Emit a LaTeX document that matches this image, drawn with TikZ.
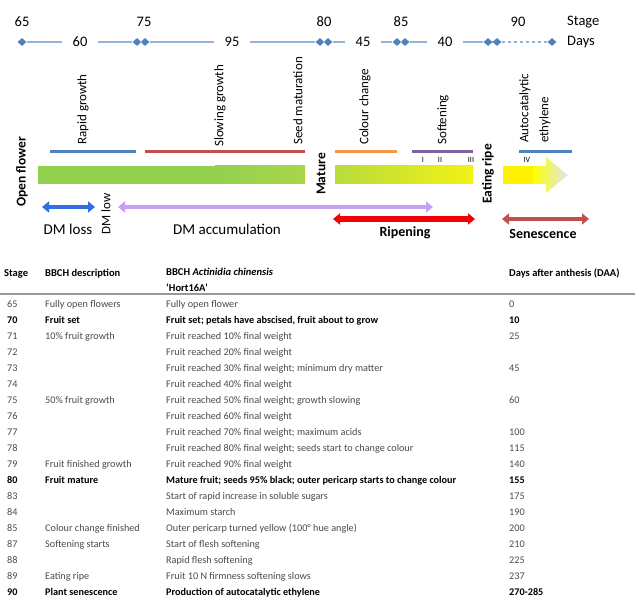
\documentclass[tikz,border=0pt]{standalone}
\usepackage{fontspec}
\setmainfont{Carlito}
\usetikzlibrary{arrows.meta, shapes.geometric, calc}

\definecolor{tlblue}{HTML}{95B3D7}
\definecolor{diablue}{HTML}{4F81BD}
\definecolor{slowred}{HTML}{C0504D}
\definecolor{colorange}{HTML}{F79646}
\definecolor{softpurple}{HTML}{8064A2}
\definecolor{bargreen}{HTML}{92D050}
\definecolor{barlime}{HTML}{AAD648}
\definecolor{ripelime}{HTML}{B8DB3E}
\definecolor{ripeyellow}{HTML}{F2F214}
\definecolor{tipgrey}{HTML}{DCE6F0}
\definecolor{lossblue}{HTML}{2E6FE6}
\definecolor{accviolet}{HTML}{C6A0F4}
\definecolor{ripered}{HTML}{F00000}
\definecolor{tabgrey}{HTML}{4A4A4A}
\definecolor{rulegrey}{HTML}{999999}

\tikzset{
  dia/.style={diamond, fill=diablue, inner sep=0pt, minimum width=9pt, minimum height=8pt},
  stagenum/.style={font=\fontsize{14.5}{16}\selectfont, inner sep=0pt},
  daynum/.style={font=\fontsize{14.5}{16}\selectfont, inner xsep=10pt, inner ysep=0pt},
  tline/.style={tlblue, line width=1.3pt},
  phase/.style={font=\fontsize{13}{20}\selectfont, rotate=90, anchor=west, inner sep=0pt, align=left},
  keylab/.style={font=\fontsize{13.5}{16}\selectfont\bfseries, rotate=90, inner sep=0pt},
  bar/.style={line width=3pt},
  roman/.style={font=\fontsize{8}{9}\selectfont, inner sep=0pt},
  dblarrow/.style={line width=4pt, {Triangle[width=11pt,length=7pt]}-{Triangle[width=11pt,length=7pt]}},
  armlab/.style={font=\fontsize{15}{17}\selectfont, inner sep=0pt},
  armbold/.style={font=\fontsize{14}{17}\selectfont\bfseries, inner sep=0pt},
  thead/.style={font=\fontsize{10.5}{16}\selectfont\bfseries, anchor=base west, inner sep=0pt, align=left},
  tbody/.style={font=\fontsize{10.2}{12}\selectfont, text=tabgrey, anchor=base west, inner sep=0pt},
  tbold/.style={font=\fontsize{10.2}{12}\selectfont\bfseries, anchor=base west, inner sep=0pt}
}

\begin{document}
\begin{tikzpicture}[x=1pt, y=-1pt]
    \useasboundingbox (0,0) rectangle (635,599);

    % stage / days timeline
    \node[stagenum] (s65) at (22,22) {65};
    \node[stagenum] (s75) at (144,22) {75};
    \node[stagenum] (s80) at (324,22) {80};
    \node[stagenum] (s85) at (401,22) {85};
    \node[stagenum] (s90) at (518,22) {90};
    \node[stagenum, anchor=west] (stage) at (567,22) {Stage};
    \node[stagenum, anchor=west] (days) at (567,42) {Days};

    \node[daynum] (n60) at (80,42) {60};
    \node[daynum] (n95) at (232,42) {95};
    \node[daynum] (n45) at (363,42) {45};
    \node[daynum] (n40) at (445,42) {40};

    \node[dia] (d1) at (22,42) {};
    \node[dia] (d2) at (137,42) {};
    \node[dia] (d3) at (145,42) {};
    \node[dia] (d4) at (320,42) {};
    \node[dia] (d5) at (328,42) {};
    \node[dia] (d6) at (397,42) {};
    \node[dia] (d7) at (405,42) {};
    \node[dia] (d8) at (488,42) {};
    \node[dia] (d9) at (497,42) {};
    \node[dia] (d10) at (552,42) {};

    \draw[tline] (d1) -- (n60) (n60) -- (d2) -- (d3) -- (n95) (n95) -- (d4) -- (d5) -- (n45)
        (n45) -- (d6) -- (d7) -- (n40) (n40) -- (d8) -- (d9);
    \draw[tline, dashed] (d9) -- (d10);

    % phase labels and bars
    \node[phase] (rapid) at (83,145) {Rapid growth};
    \node[phase] (slowing) at (220,147) {Slowing growth};
    \node[phase] (seed) at (298,145) {Seed maturation};
    \node[phase] (colour) at (365,145) {Colour change};
    \node[phase] (soft) at (443,145) {Softening};
    \node[phase] (autocat) at (535,143) {Autocatalytic\\ethylene};

    \draw[bar, diablue] (50,152) -- (136,152);
    \draw[bar, slowred] (145,152) -- (305,152);
    \draw[bar, colorange] (335,152) -- (397,152);
    \draw[bar, softpurple] (412,152) -- (473,152);
    \draw[bar, diablue] (519,152) -- (572,152);

    \node[roman] (r1) at (423,160) {I};
    \node[roman] (r2) at (440,160) {II};
    \node[roman] (r3) at (471,160) {III};
    \node[roman] (r4) at (527,160) {IV};

    % fruit development bars
    \fill[bargreen] (38,166) rectangle (216,184);
    \shade[left color=bargreen, right color=barlime] (215,166) rectangle (305,184);
    \shade[left color=ripelime, right color=ripeyellow] (335,166) rectangle (473,184);
    \fill[yellow] (503,166) rectangle (534,184);
    \shade[left color=yellow, middle color=yellow!45!tipgrey, right color=tipgrey]
        (533,166) -- (546,166) -- (546,157) -- (568,175) -- (546,193) -- (546,184) -- (533,184) -- cycle;

    \node[keylab] (open) at (22,172) {Open flower};
    \node[keylab] (mature) at (321,174) {Mature};
    \node[keylab] (eating) at (488,174) {Eating ripe};
    \node[armlab, font=\fontsize{13}{16}\selectfont, rotate=90] (dmlow) at (106,214) {DM low};

    % dry matter and ripening arrows
    \coordinate (lossL) at (42,207);
    \coordinate (lossR) at (95,207);
    \coordinate (accL) at (118,207);
    \coordinate (accR) at (433,207);
    \coordinate (ripeL) at (333,219);
    \coordinate (ripeR) at (475,219);
    \coordinate (senL) at (502,219);
    \coordinate (senR) at (589,219);
    \draw[dblarrow, lossblue] (lossL) -- (lossR);
    \draw[dblarrow, accviolet] (accL) -- (accR);
    \draw[dblarrow, ripered, line width=5pt] (ripeL) -- (ripeR);
    \draw[dblarrow, slowred] (senL) -- (senR);
    \node[armlab] (loss) at (68,229) {DM loss};
    \node[armlab] (accum) at (227,229) {DM accumulation};
    \node[armbold] (ripening) at (405,233) {Ripening};
    \node[armbold] (senesc) at (543,234) {Senescence};

    % table
    \node[thead] (hstage) at (4,276) {Stage};
    \node[thead] (hdesc) at (45,276) {BBCH description};
    \node[thead, anchor=north west] (hact) at (166,268) {BBCH \textit{Actinidia chinensis}\\`Hort16A'};
    \node[thead] (hdaa) at (509,276) {Days after anthesis (DAA)};
    \draw[rulegrey, line width=2pt] (0,294) -- (635,294);

    \foreach \r/\st/\bd/\ac/\da/\sty in {
        0/65/{Fully open flowers}/{Fully open flower}/0/tbody,
        1/70/{Fruit set}/{Fruit set; petals have abscised, fruit about to grow}/10/tbold,
        2/71/{10\% fruit growth}/{Fruit reached 10\% final weight}/25/tbody,
        3/72/{}/{Fruit reached 20\% final weight}/{}/tbody,
        4/73/{}/{Fruit reached 30\% final weight; minimum dry matter}/45/tbody,
        5/74/{}/{Fruit reached 40\% final weight}/{}/tbody,
        6/75/{50\% fruit growth}/{Fruit reached 50\% final weight; growth slowing}/60/tbody,
        7/76/{}/{Fruit reached 60\% final weight}/{}/tbody,
        8/77/{}/{Fruit reached 70\% final weight; maximum acids}/100/tbody,
        9/78/{}/{Fruit reached 80\% final weight; seeds start to change colour}/115/tbody,
        10/79/{Fruit finished growth}/{Fruit reached 90\% final weight}/140/tbody,
        11/80/{Fruit mature}/{Mature fruit; seeds 95\% black; outer pericarp starts to change colour}/155/tbold,
        12/83/{}/{Start of rapid increase in soluble sugars}/175/tbody,
        13/84/{}/{Maximum starch}/190/tbody,
        14/85/{Colour change finished}/{Outer pericarp turned yellow (100° hue angle)}/200/tbody,
        15/87/{Softening starts}/{Start of flesh softening}/210/tbody,
        16/88/{}/{Rapid flesh softening}/225/tbody,
        17/89/{Eating ripe}/{Fruit 10 N firmness softening slows}/237/tbody,
        18/90/{Plant senescence}/{Production of autocatalytic ethylene}/270-285/tbold}{
        \node[\sty] (st\r) at (7,{307+16*\r}) {\st};
        \node[\sty] (bb\r) at (45,{307+16*\r}) {\bd};
        \node[\sty] (ac\r) at (166,{307+16*\r}) {\ac};
        \node[\sty] (da\r) at (509,{307+16*\r}) {\da};
    }

\end{tikzpicture}
\end{document}
